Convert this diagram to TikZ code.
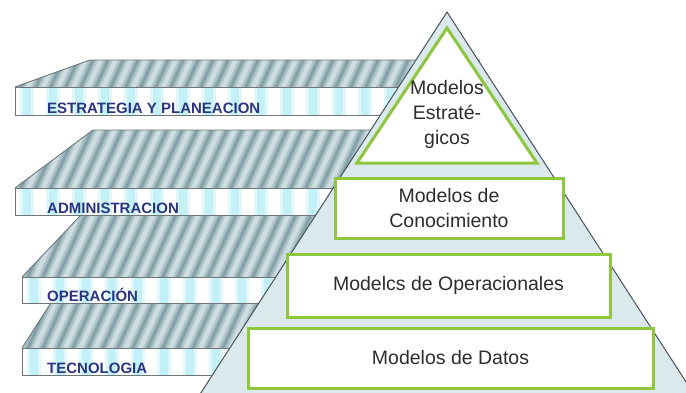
\documentclass[tikz,border=0pt]{standalone}
\usepackage{fontspec}
\setmainfont{Liberation Sans}
\definecolor{slabedge}{RGB}{110,118,122}
\definecolor{topbase}{RGB}{206,221,224}
\definecolor{toplight}{RGB}{178,199,204}
\definecolor{topmid}{RGB}{152,178,185}
\definecolor{topdark}{RGB}{132,158,166}
\definecolor{frontstripe}{RGB}{196,241,248}
\definecolor{frontsoft}{RGB}{224,248,252}
\definecolor{labelblue}{RGB}{42,52,128}
\definecolor{pyrfill}{RGB}{219,232,236}
\definecolor{pyredge}{RGB}{70,84,90}
\definecolor{modelgreen}{RGB}{142,198,62}
\definecolor{modeltext}{RGB}{45,45,45}
\begin{document}
\begin{tikzpicture}[x=1pt, y=-1pt,
                    slabline/.style = {draw=slabedge, line width=0.9pt},
                    layerlabel/.style = {anchor=base west, inner sep=0pt,
                        text=labelblue, font=\fontsize{15}{18}\selectfont\bfseries},
                    greenbox/.style = {draw=modelgreen, line width=3pt,
                        fill=white, inner sep=0pt, align=center, text=modeltext,
                        font=\fontsize{19.5}{25}\selectfont}]

        \clip (0,0) rectangle (686,392);

        % layers, drawn from the bottom one up
        \foreach \xa/\ya/\yb/\dx/\dy/\name/\txt in
            {22/348/375/32/50/tecno/TECNOLOGIA,
             22/277/303/59/62/oper/OPERACIÓN,
             15/188/215/78/58/admin/ADMINISTRACION,
             15/87/115/75/27/estr/ESTRATEGIA Y PLANEACION} {
            \begin{scope}
                \clip (\xa,\ya) -- ({\xa+\dx},{\ya-\dy}) -- (480,{\ya-\dy}) -- (480,\ya) -- cycle;
                \fill[topbase] (0,{\ya-\dy}) rectangle (480,\ya);
                \foreach \s in {0,15,...,525} {
                    \draw[toplight, line width=9pt] ({\xa+\s-40},{\ya+2}) -- ({\xa+\s-40+0.45*(\dy+4)},{\ya-\dy-2});
                    \draw[topmid, line width=5pt] ({\xa+\s-40},{\ya+2}) -- ({\xa+\s-40+0.45*(\dy+4)},{\ya-\dy-2});
                    \draw[topdark, line width=2pt] ({\xa+\s-40},{\ya+2}) -- ({\xa+\s-40+0.45*(\dy+4)},{\ya-\dy-2});
                }
            \end{scope}
            \draw[slabline] (\xa,\ya) -- ({\xa+\dx},{\ya-\dy}) -- (480,{\ya-\dy});
            \fill[white] (\xa,\ya) rectangle (480,\yb);
            \foreach \s in {8,34,...,460} {
                \fill[frontsoft] ({\xa+\s-3},\ya) rectangle ({\xa+\s+11},\yb);
                \fill[frontstripe] ({\xa+\s},\ya) rectangle ({\xa+\s+8},\yb);
            }
            \draw[slabline] (480,\ya) -- (\xa,\ya) -- (\xa,\yb) -- (480,\yb);
            \node[layerlabel] (\name) at (47,{\yb-2}) {\txt};
        }

        % pyramid
        \coordinate (apex) at (447,12);
        \coordinate (pl) at (193,405);
        \coordinate (pr) at (701,405);
        \fill[pyrfill] (apex) -- (pl) -- (pr) -- cycle;
        \draw[pyredge, line width=1pt] (pl) -- (apex) -- (pr);

        % top model
        \coordinate (gtop) at (447,28);
        \coordinate (gl) at (357,163);
        \coordinate (gr) at (537,163);
        \draw[modelgreen, line width=3pt, fill=white, line join=miter] (gtop) -- (gl) -- (gr) -- cycle;
        \node[align=center, text=modeltext, font=\fontsize{19.5}{25}\selectfont]
            (strat) at (447,114) {Modelos\\Estraté-\\gicos};

        \node[greenbox, minimum width=228pt, minimum height=60pt] (conoc) at (449,208)
            {Modelos de\\Conocimiento};
        \node[greenbox, minimum width=323pt, minimum height=63pt] (opera) at (448.5,285.5)
            {Modelcs de Operacionales};
        \node[greenbox, minimum width=405pt, minimum height=60pt] (datos) at (450.5,358)
            {Modelos de Datos};

\end{tikzpicture}
\end{document}
